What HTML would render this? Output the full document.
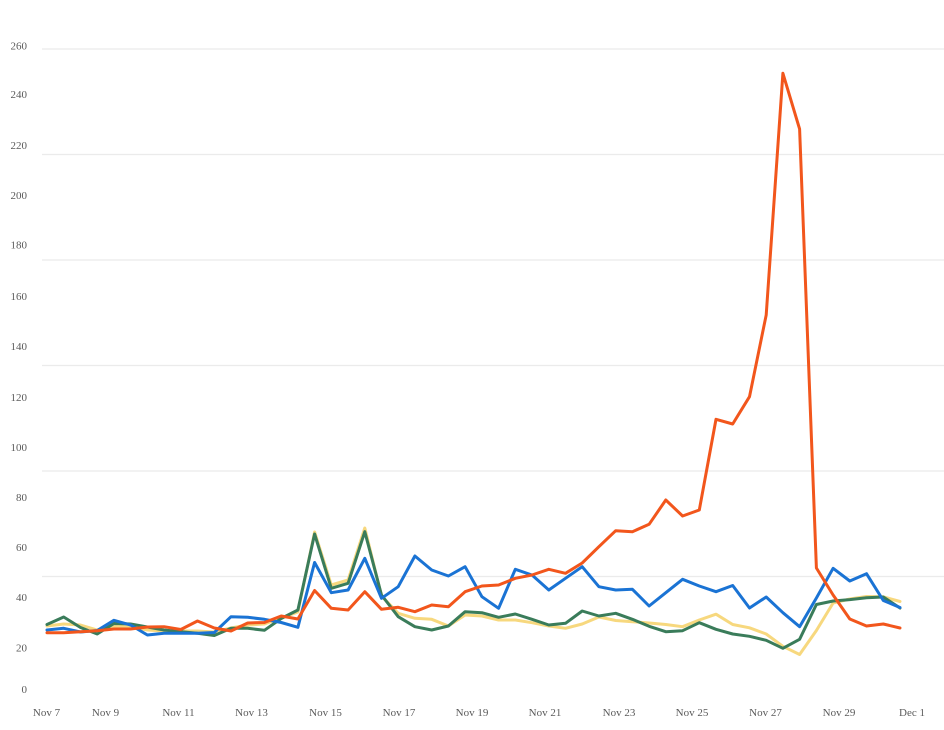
<!DOCTYPE html>
<html>
<head>
<meta charset="utf-8">
<style>
  html,body{margin:0;padding:0;background:#fff;}
  svg{display:block;}
  text{font-family:"Liberation Serif",serif;font-size:11px;fill:#5a5a5a;}
</style>
</head>
<body>
<svg width="944" height="730" viewBox="0 0 944 730" xmlns="http://www.w3.org/2000/svg">
  <rect width="944" height="730" fill="#fff"/>
  <g stroke="#ebebeb" stroke-width="1.2">
    <line x1="42" y1="49" x2="944" y2="49"/>
    <line x1="42" y1="154.5" x2="944" y2="154.5"/>
    <line x1="42" y1="260" x2="944" y2="260"/>
    <line x1="42" y1="365.5" x2="944" y2="365.5"/>
    <line x1="42" y1="471" x2="944" y2="471"/>
    <line x1="42" y1="576.5" x2="944" y2="576.5"/>
  </g>
  <g text-anchor="end">
    <text x="27" y="49.5">260</text>
    <text x="27" y="98">240</text>
    <text x="27" y="149">220</text>
    <text x="27" y="199">200</text>
    <text x="27" y="248.5">180</text>
    <text x="27" y="300">160</text>
    <text x="27" y="350">140</text>
    <text x="27" y="401">120</text>
    <text x="27" y="451">100</text>
    <text x="27" y="501">80</text>
    <text x="27" y="551">60</text>
    <text x="27" y="601">40</text>
    <text x="27" y="651.5">20</text>
    <text x="27" y="693">0</text>
  </g>
  <g text-anchor="middle">
    <text x="46.5" y="716">Nov 7</text>
    <text x="105.5" y="716">Nov 9</text>
    <text x="178.5" y="716">Nov 11</text>
    <text x="251.5" y="716">Nov 13</text>
    <text x="325.5" y="716">Nov 15</text>
    <text x="399" y="716">Nov 17</text>
    <text x="472" y="716">Nov 19</text>
    <text x="545" y="716">Nov 21</text>
    <text x="619" y="716">Nov 23</text>
    <text x="692" y="716">Nov 25</text>
    <text x="765.5" y="716">Nov 27</text>
    <text x="839" y="716">Nov 29</text>
    <text x="912" y="716">Dec 1</text>
  </g>
  <g fill="none" stroke-width="3" stroke-linejoin="round" stroke-linecap="round">
    <!-- yellow -->
    <polyline stroke="#f7d87e" points="47.0,626 63.7,624 80.5,625 97.2,630 113.9,626 130.6,627 147.4,630 164.1,631 180.8,631 197.5,631 214.3,632 231.0,628 247.7,625 264.4,624 281.2,618 297.9,612 314.6,532 331.3,585 348.1,580 364.8,528 381.5,596 398.2,613.3 414.9,618.3 431.7,619.3 448.4,626 465.1,615 481.9,616 498.6,620 515.3,620 532.0,622.7 548.8,626 565.5,628.3 582.2,624 598.9,617 615.7,620.5 632.4,621.7 649.1,623 665.8,624.5 682.6,626.7 699.3,620 716.0,614.2 732.7,624.5 749.5,627.8 766.2,634 782.9,646.3 799.6,654.5 816.4,630.5 833.1,603 849.8,599 866.5,596.5 883.3,596.8 900.0,601.5"/>
    <!-- green -->
    <polyline stroke="#3a7c5a" points="47.0,624.5 63.7,617 80.5,627.5 97.2,634 113.9,623.5 130.6,624 147.4,627 164.1,630 180.8,631.7 197.5,633.3 214.3,635.5 231.0,628.3 247.7,628.3 264.4,630.3 281.2,618.5 297.9,610 314.6,534 331.3,588.3 348.1,583.3 364.8,531.7 381.5,595 398.2,616.7 414.9,626.7 431.7,630 448.4,626 465.1,611.7 481.9,612.7 498.6,617.3 515.3,614 532.0,619.3 548.8,625 565.5,623.3 582.2,611 598.9,616 615.7,613.3 632.4,619.3 649.1,626.3 665.8,631.7 682.6,630.7 699.3,622.7 716.0,629.3 732.7,634 749.5,636.3 766.2,640.3 782.9,648.3 799.6,639.3 816.4,604.5 833.1,601 849.8,599.6 866.5,597.8 883.3,597 900.0,608"/>
    <!-- blue -->
    <polyline stroke="#1a73d4" points="47.0,630 63.7,628.3 80.5,632 97.2,630.5 113.9,620.3 130.6,625 147.4,635 164.1,633.3 180.8,633.3 197.5,633.3 214.3,632.5 231.0,616.7 247.7,617.3 264.4,619.3 281.2,622.5 297.9,627.3 314.6,562.5 331.3,592.7 348.1,590 364.8,558.3 381.5,598.3 398.2,586.7 414.9,556 431.7,570 448.4,576 465.1,566.7 481.9,596.7 498.6,608.3 515.3,569.3 532.0,575 548.8,590 565.5,578.3 582.2,566.7 598.9,586.7 615.7,590 632.4,589.3 649.1,606 665.8,592.7 682.6,579.3 699.3,586 716.0,591.7 732.7,585.5 749.5,608 766.2,597 782.9,612.7 799.6,626.7 816.4,598 833.1,568.3 849.8,581 866.5,573.7 883.3,600.5 900.0,607.5"/>
    <!-- orange -->
    <polyline stroke="#f2561c" points="47.0,632.7 63.7,632.7 80.5,631.7 97.2,630.7 113.9,629 130.6,629 147.4,627 164.1,626.7 180.8,629.5 197.5,621 214.3,628 231.0,631 247.7,623 264.4,622.5 281.2,616 297.9,619 314.6,590.5 331.3,608.3 348.1,610 364.8,591.7 381.5,609.3 398.2,607.3 414.9,611.7 431.7,605 448.4,606.7 465.1,591.7 481.9,586 498.6,585 515.3,578.3 532.0,575 548.8,569.3 565.5,573.3 582.2,563 598.9,546.7 615.7,530.7 632.4,531.7 649.1,524.3 665.8,500 682.6,516 699.3,510 716.0,419.3 732.7,424 749.5,396.7 766.2,315 782.9,73.3 799.6,129 816.4,568 833.1,595 849.8,619 866.5,626 883.3,624 900.0,628"/>
  </g>
</svg>
</body>
</html>
